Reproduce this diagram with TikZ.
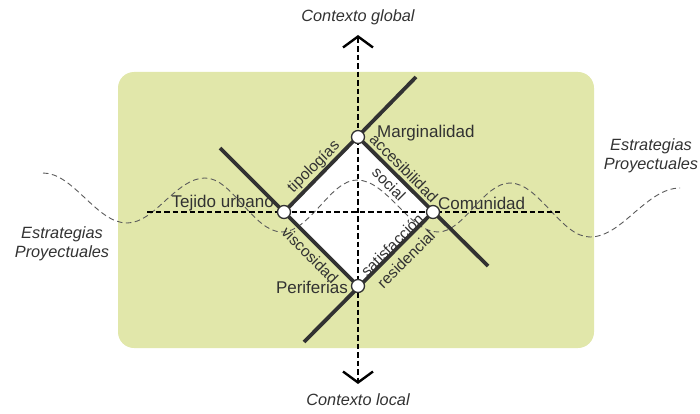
\documentclass[tikz,border=0pt]{standalone}
\usepackage{fontspec}
\setmainfont{Liberation Sans}
\usetikzlibrary{arrows.meta}
\definecolor{bggreen}{RGB}{225,231,170}
\definecolor{ink}{RGB}{50,50,50}
\begin{document}
\begin{tikzpicture}[x=1pt,y=-1pt,
  vtx/.style={circle,draw=ink,fill=white,line width=1.3pt,minimum size=13pt,inner sep=0pt},
  lbl/.style={font=\fontsize{17}{19}\selectfont,text=ink,inner sep=0pt},
  elbl/.style={font=\fontsize{15.5}{17}\selectfont,text=ink,inner sep=0pt},
  ital/.style={font=\fontsize{16.3}{18.5}\selectfont\itshape,text=ink,inner sep=0pt,align=center},
  axis/.style={line width=2.6pt,dash pattern=on 5.5pt off 3pt,black},
  barb/.tip={Straight Barb[length=11pt,width=30pt,line width=2.4pt]},
  heavy/.style={line width=3.8pt,ink},
  wave/.style={line width=0.9pt,dash pattern=on 5.5pt off 3.5pt,ink!80}]
\useasboundingbox (0,0) rectangle (700,414);
\fill[bggreen,rounded corners=16pt] (118,72) rectangle (594,348);
% key points
\coordinate (m) at (358,137);
\coordinate (t) at (284,212);
\coordinate (c) at (433,212);
\coordinate (p) at (358,286);
\coordinate (gtop) at (358,35);
\coordinate (gbot) at (358,384);
\coordinate (hl) at (147,212);
\coordinate (hr) at (560,212);
\coordinate (ea) at (220,148);
\coordinate (eb) at (416,77);
\coordinate (ec) at (488,266);
\coordinate (ed) at (304,342);
% diamond fill
\fill[white] (m) -- (c) -- (p) -- (t) -- cycle;
% wave
\draw[wave] (43,173) cos (85,198) sin (127,223) cos (166,200) sin (205,178)
  cos (243,205) sin (282,232) cos (320,206) sin (357,180)
  cos (398,206) sin (438,232) cos (474,207) sin (510,183)
  cos (550,210) sin (590,237) cos (635,212) sin (680,188);
% axes
\draw[axis,barb-barb] (gtop) -- (gbot);
\draw[axis] (hl) -- (hr);
% heavy lines
\draw[heavy] (ea) -- (p);
\draw[heavy] (eb) -- (t);
\draw[heavy] (m) -- (ec);
\draw[heavy] (ed) -- (c);
% vertices
\node[vtx] (M) at (m) {};
\node[vtx] (T) at (t) {};
\node[vtx] (C) at (c) {};
\node[vtx] (P) at (p) {};
% node labels
\node[lbl,anchor=west] (lm) at (377,133) {Marginalidad};
\node[lbl,anchor=east] (lt) at (274,203) {Tejido urbano};
\node[lbl,anchor=west] (lc) at (438,203) {Comunidad};
\node[lbl,anchor=east] (lp) at (348,287) {Periferias};
% edge labels
\node[elbl,rotate=45] (e1) at (314,167) {tipologías};
\node[elbl,rotate=-45] (e2) at (404,168) {accesibilidad};
\node[elbl,rotate=-45] (e3) at (389,184) {social};
\node[elbl,rotate=-45] (e4) at (310,255) {viscosidad};
\node[elbl,rotate=45] (e5) at (392,245) {satisfacción};
\node[elbl,rotate=45] (e6) at (406,259) {residencial};
% italic labels
\node[ital] (cg) at (358,17) {Contexto global};
\node[ital] (cl) at (358,400) {Contexto local};
\node[ital] (sl) at (62,244) {Estrategias\\Proyectuales};
\node[ital] (sr) at (651,156) {Estrategias\\Proyectuales};
\end{tikzpicture}
\end{document}
